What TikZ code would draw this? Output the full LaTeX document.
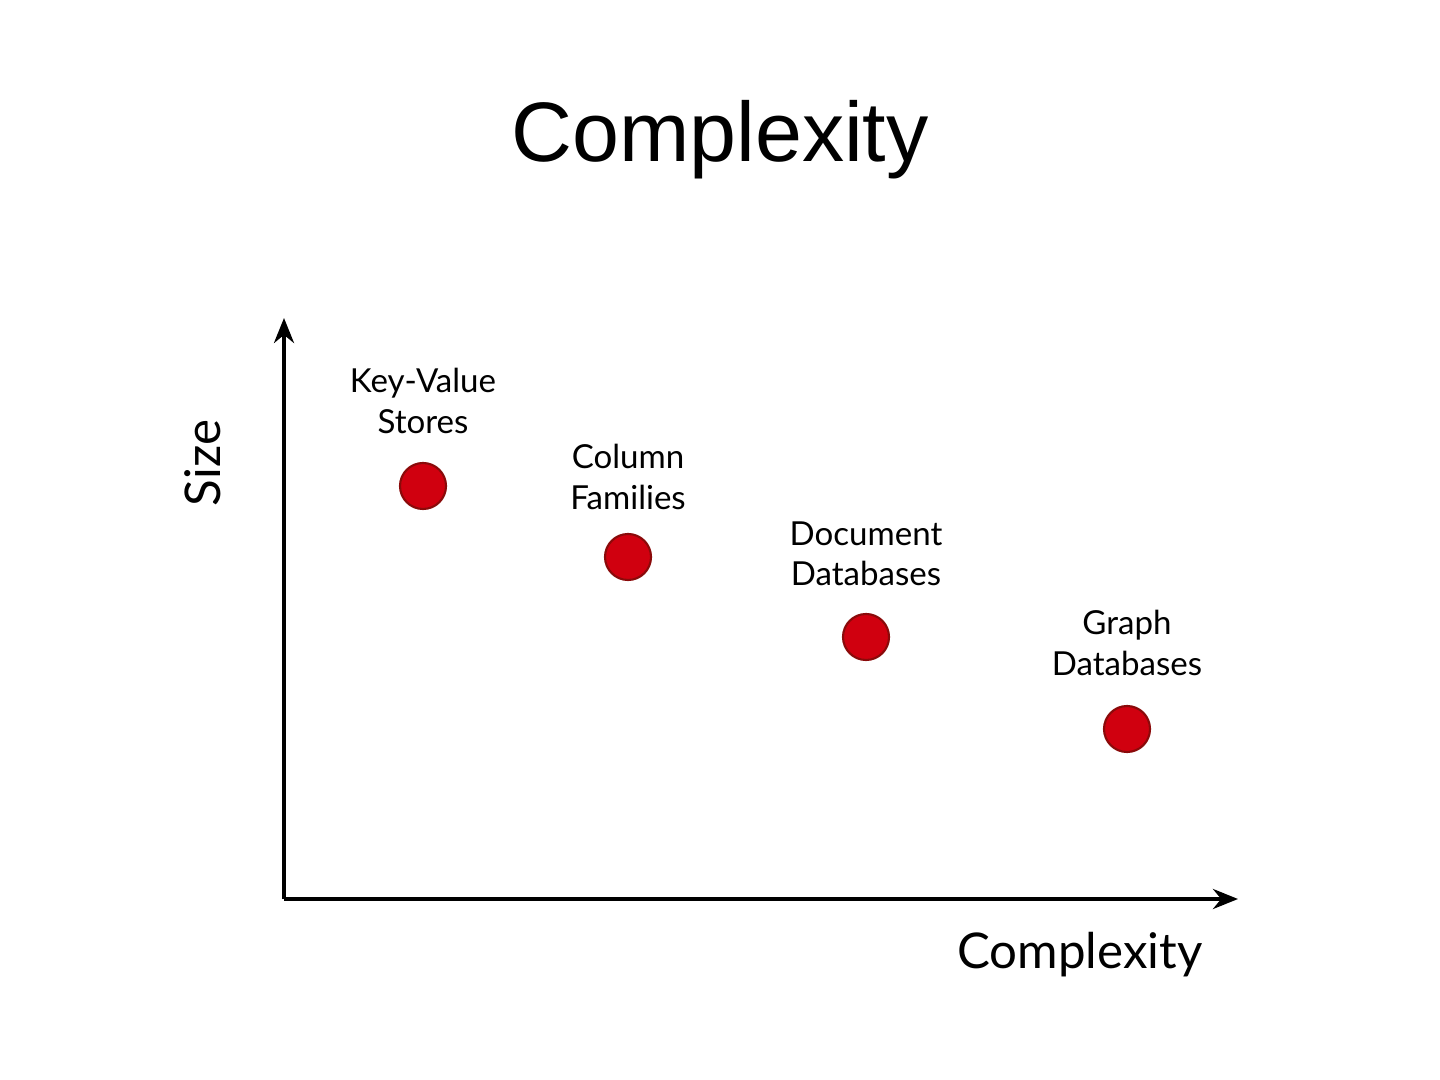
\documentclass[tikz,border=0pt]{standalone}
\usepackage{fontspec}
\setmainfont{Liberation Sans}
\newfontfamily\gillfont{Lato}
\usetikzlibrary{arrows.meta, positioning}

\definecolor{dotred}{HTML}{D0000F}
\definecolor{dotedge}{HTML}{8A0A0A}

\begin{document}
\begin{tikzpicture}[
    x=0.01cm, y=-0.01cm,
    axis/.style={line width=1.1pt, -{Stealth[length=2.5mm, width=2mm]}},
    dot/.style={draw=dotedge, fill=dotred, circle, line width=0.6pt, inner sep=0pt, minimum size=0.46cm},
    dblabel/.style={align=center, font=\gillfont\fontsize{9.4}{11.4}\selectfont},
    axislabel/.style={font=\gillfont\fontsize{14}{16}\selectfont}
]
\useasboundingbox (0,0) rectangle (1440,1080);

% Title
\node[font=\fontsize{24}{29}\selectfont] (title) at (720,140) {Complexity};

% Axes
\coordinate (O) at (284,899);
\coordinate (Ytop) at (284,318);
\coordinate (Xend) at (1238,899);
\draw[axis] (O) -- (Ytop);
\draw[axis] (O) -- (Xend);
\node[axislabel, rotate=90] (ylab) at (203,463) {Size};
\node[axislabel] (xlab) at (1080,955) {Complexity};

% Data points
\node[dot] (KV) at (423,486) {};
\node[dot] (CF) at (628,557) {};
\node[dot] (DD) at (866,637) {};
\node[dot] (GD) at (1127,729) {};

% Labels
\node[dblabel] (KVl) at (423,401) {Key-Value\\Stores};
\node[dblabel] (CFl) at (628,477) {Column\\Families};
\node[dblabel] (DDl) at (866,554) {Document\\Databases};
\node[dblabel] (GDl) at (1127,643) {Graph\\Databases};

\end{tikzpicture}
\end{document}
